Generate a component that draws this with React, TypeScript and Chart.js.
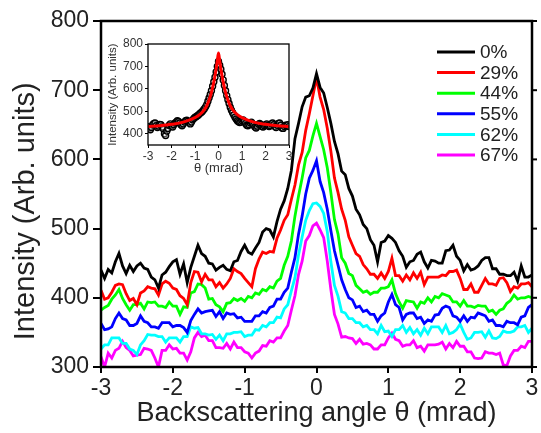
import React, { useEffect, useRef } from 'react';
import { Chart, registerables } from 'chart.js';
Chart.register(...registerables);

const FONT = "'Liberation Sans', Arial, Helvetica, sans-serif";

// sample grid of the main curves: -3 ... 3 mrad, every 0.05 mrad
const angles: number[] = Array.from({ length: 121 }, (_, i) => Math.round((-3 + i * 0.05) * 100) / 100);

const seriesLabels = ['0%', '29%', '44%', '55%', '62%', '67%'];
const seriesColors = ['#000000', '#ff0000', '#00ff00', '#0000ff', '#00ffff', '#ff00ff'];

const s0 = [440,428,441,436,452,464,446,435,447,438,446,450,443,441,430,426,414,433,437,445,
  452,455,434,449,422,444,460,476,464,460,450,449,440,444,447,441,439,452,454,467,
  476,466,463,472,480,495,500,498,488,510,528,540,558,584,630,652,676,690,692,703,
  724,704,696,675,652,626,608,583,578,558,547,528,520,506,500,484,476,452,480,482,
  490,486,480,468,460,444,452,454,463,466,452,443,454,453,450,450,468,469,476,460,
  454,439,448,440,442,446,454,458,458,442,442,434,434,432,432,437,424,446,430,430,433];
const s29 = [411,398,400,408,418,420,419,406,396,399,390,407,410,416,414,413,404,420,424,421,
  414,412,403,399,390,422,438,437,423,434,426,426,416,422,414,420,428,442,438,435,
  428,422,416,442,456,466,464,467,466,486,498,512,520,542,563,592,610,642,666,692,
  718,690,672,645,612,573,552,528,512,488,476,464,460,448,442,434,434,428,436,428,
  438,457,432,432,424,433,426,436,428,437,419,430,430,430,430,433,432,438,438,440,
  428,412,412,420,408,408,418,428,420,420,418,428,429,422,409,416,414,420,420,422,416];
const s44 = [382,386,389,398,404,412,399,390,382,390,390,392,384,394,393,394,388,388,386,394,
  388,388,376,387,386,407,409,420,419,414,398,399,390,387,380,392,393,399,396,399,
  395,402,400,407,405,412,410,416,414,424,428,447,460,482,518,547,573,602,613,634,
  652,633,614,588,552,513,492,458,450,435,432,418,413,408,410,405,408,408,414,414,
  416,426,406,394,385,396,395,394,385,394,392,400,394,402,400,406,404,402,394,394,
  388,396,388,388,386,389,388,388,380,382,376,382,384,392,396,404,398,400,400,402,400];
const s55 = [363,354,355,358,370,378,370,368,360,360,363,374,366,364,358,358,356,364,364,364,
  358,360,360,357,350,367,376,384,378,380,381,382,373,380,370,378,376,377,371,372,
  366,366,366,374,374,380,378,386,388,398,398,408,414,437,458,492,518,550,573,584,
  598,568,552,528,497,468,447,426,412,400,397,386,388,380,382,376,376,366,374,378,
  394,405,390,386,368,376,378,378,370,372,363,368,366,375,376,385,388,386,374,372,
  366,374,366,372,371,378,376,374,366,368,360,360,358,366,364,364,361,372,374,386,390];
const s62 = [326,332,332,342,342,342,334,334,326,324,318,332,338,347,346,346,344,344,336,342,
  342,342,336,344,344,358,356,357,348,348,346,347,340,346,338,348,348,350,350,351,
  344,346,346,354,353,360,358,364,364,372,371,384,390,410,429,462,488,512,526,536,
  537,532,522,496,452,418,402,380,378,370,370,364,364,358,360,354,354,348,360,351,
  352,344,354,354,360,350,357,348,354,346,356,348,358,358,358,350,360,348,350,354,
  362,350,340,342,350,350,351,343,352,342,341,344,352,350,350,352,358,358,360,350,356];
const s67 = [315,300,320,313,324,327,337,328,324,316,317,318,327,326,324,313,300,324,324,332,
  326,327,320,320,310,322,342,350,344,346,338,338,328,328,327,334,326,336,328,328,
  322,320,313,320,323,331,330,338,336,342,342,352,360,382,403,434,453,482,490,504,
  508,498,487,453,412,376,362,343,344,342,341,334,340,333,334,332,326,326,332,332,
  342,349,340,338,330,332,332,338,328,330,323,332,332,332,333,336,326,334,328,337,
  330,330,322,322,313,312,313,322,320,320,318,320,303,302,316,324,324,330,328,337,337];
const seriesValues = [s0, s29, s44, s55, s62, s67];

const yTicks = [300, 400, 500, 600, 700, 800];
const xTicks = [-3, -2, -1, 0, 1, 2, 3];

// inset: measured points (every 0.05 mrad) and fitted curve
const insetMeasured = [432,425,418,428,440,446,448,436,428,434,442,440,430,422,400,392,412,424,438,444,
  436,430,440,448,452,458,455,448,440,436,444,452,458,460,456,450,444,452,462,468,
  474,476,480,484,490,494,498,505,512,520,530,545,560,575,592,612,632,652,675,700,
  722,705,688,665,640,615,592,570,552,535,518,505,494,484,474,466,458,454,450,452,
  458,462,455,446,438,436,440,448,452,444,438,430,426,434,442,446,440,432,430,436,
  440,444,438,432,436,444,448,440,432,428,438,446,448,438,426,424,432,438,436,440,432];
const fitAngles = [-3, -2.5, -2, -1.5, -1, -0.8, -0.6, -0.5, -0.4, -0.3, -0.2, -0.1, -0.05, 0, 0.05, 0.1, 0.2, 0.3, 0.4, 0.5, 0.6, 0.8, 1, 1.5, 2, 2.5, 3];
const fitValues = [432, 436, 442, 452, 472, 485, 508, 525, 550, 585, 630, 690, 725, 760, 725, 690, 630, 585, 550, 525, 508, 485, 472, 452, 442, 436, 432];
const insetYTicks = [400, 500, 600, 700, 800];

const framePlugin = {
  id: 'frame',
  afterDatasetsDraw(chart: any, _a: any, opts: any) {
    const { ctx, chartArea } = chart;
    ctx.save();
    ctx.strokeStyle = '#000';
    ctx.lineWidth = opts.width || 2;
    ctx.strokeRect(chartArea.left, chartArea.top, chartArea.right - chartArea.left, chartArea.bottom - chartArea.top);
    if (opts.rightTicks) {
      const ys = chart.scales.y;
      ctx.lineWidth = opts.tickWidth || 2;
      ys.ticks.forEach((t: any) => {
        const py = ys.getPixelForValue(t.value);
        ctx.beginPath();
        ctx.moveTo(chartArea.right, py);
        ctx.lineTo(chartArea.right + opts.rightTicks, py);
        ctx.stroke();
      });
    }
    ctx.restore();
  },
};

// y-axis title of the main chart, set a little below the axis centre as in the original
const yTitlePlugin = {
  id: 'yTitle',
  afterDraw(chart: any, _a: any, opts: any) {
    if (!opts.text) return;
    const { ctx, chartArea } = chart;
    const cy = chartArea.top + (chartArea.bottom - chartArea.top) * 0.55;
    ctx.save();
    ctx.translate(opts.x, cy);
    ctx.rotate(-Math.PI / 2);
    ctx.fillStyle = '#222';
    ctx.font = `${opts.size}px ${FONT}`;
    ctx.textAlign = 'center';
    ctx.textBaseline = 'middle';
    ctx.fillText(opts.text, 0, 0);
    ctx.restore();
  },
};

const legendPlugin = {
  id: 'insideLegend',
  afterDatasetsDraw(chart: any, _a: any, opts: any) {
    if (!opts.show) return;
    const { ctx, chartArea } = chart;
    ctx.save();
    chart.data.datasets.forEach((ds: any, i: number) => {
      const y = chartArea.top + 31 + i * 20.6;
      const x0 = chartArea.right - 95;
      ctx.strokeStyle = ds.borderColor;
      ctx.lineWidth = 3;
      ctx.beginPath();
      ctx.moveTo(x0, y);
      ctx.lineTo(x0 + 38, y);
      ctx.stroke();
      ctx.fillStyle = '#222';
      ctx.font = `19px ${FONT}`;
      ctx.textBaseline = 'middle';
      ctx.textAlign = 'left';
      ctx.fillText(ds.label, x0 + 43, y + 1);
    });
    ctx.restore();
  },
};

export default function App() {
  const mainRef = useRef<HTMLCanvasElement>(null);
  const insetRef = useRef<HTMLCanvasElement>(null);

  useEffect(() => {
    const main = new Chart(mainRef.current!, {
      type: 'line',
      data: {
        datasets: seriesValues.map((vals, k) => ({
          label: seriesLabels[k],
          data: angles.map((a, i) => ({ x: a, y: vals[i] })),
          borderColor: seriesColors[k],
          backgroundColor: seriesColors[k],
          borderWidth: 2.8,
          pointRadius: 0,
          tension: 0,
          fill: false,
        })),
      },
      options: {
        responsive: false,
        animation: false,
        events: [],
        layout: { padding: { left: 0, right: 9, top: 21, bottom: 0 } },
        plugins: {
          legend: { display: false },
          tooltip: { enabled: false },
          frame: { width: 2.5, rightTicks: 5, tickWidth: 2 },
          insideLegend: { show: true },
          yTitle: { text: 'Intensity (Arb. units)', size: 29, x: 26 },
        } as any,
        scales: {
          x: {
            type: 'linear',
            min: -3,
            max: 3,
            afterBuildTicks: (s: any) => { s.ticks = xTicks.map((v) => ({ value: v })); },
            afterFit: (s: any) => { s.height = 66; },
            ticks: { font: { size: 23, family: FONT }, color: '#222', padding: 2, maxRotation: 0, callback: (v: any) => String(v) },
            grid: { drawOnChartArea: false, drawTicks: true, tickLength: 6, color: '#000', lineWidth: 2 },
            border: { display: false },
            title: { display: true, text: 'Backscattering angle θ (mrad)', font: { size: 27, family: FONT }, color: '#222', padding: { top: 0, bottom: 3 } },
          },
          y: {
            type: 'linear',
            min: 300,
            max: 800,
            afterBuildTicks: (s: any) => { s.ticks = yTicks.map((v) => ({ value: v })); },
            afterFit: (s: any) => { s.width = 101; },
            ticks: { font: { size: 23, family: FONT }, color: '#222', padding: 4 },
            grid: { drawOnChartArea: false, drawTicks: true, tickLength: 8, color: '#000', lineWidth: 2 },
            border: { display: false },
            title: { display: false },
          },
        },
      },
      plugins: [framePlugin, legendPlugin, yTitlePlugin],
    });

    const inset = new Chart(insetRef.current!, {
      type: 'line',
      data: {
        datasets: [
          {
            label: 'fit',
            data: fitAngles.map((a, i) => ({ x: a, y: fitValues[i] })),
            borderColor: '#ff0000',
            borderWidth: 3,
            pointRadius: 0,
            cubicInterpolationMode: 'monotone',
            fill: false,
          },
          {
            label: 'data',
            data: angles.map((a, i) => ({ x: a, y: insetMeasured[i] })),
            showLine: false,
            pointRadius: 3,
            pointBorderWidth: 1.4,
            pointBorderColor: '#000',
            pointBackgroundColor: 'rgba(255,255,255,0.35)',
            borderColor: '#000',
          },
        ],
      },
      options: {
        responsive: false,
        animation: false,
        events: [],
        layout: { padding: { left: 0, right: 11, top: 14, bottom: 0 } },
        plugins: {
          legend: { display: false },
          tooltip: { enabled: false },
          frame: { width: 1.3 },
          insideLegend: { show: false },
          yTitle: { text: '' },
        } as any,
        scales: {
          x: {
            type: 'linear',
            min: -3,
            max: 3,
            afterBuildTicks: (s: any) => { s.ticks = xTicks.map((v) => ({ value: v })); },
            afterFit: (s: any) => { s.height = 35; },
            ticks: { font: { size: 12, family: FONT }, color: '#333', padding: 1, maxRotation: 0, callback: (v: any) => String(v) },
            grid: { drawOnChartArea: false, drawTicks: true, tickLength: 3, color: '#000', lineWidth: 1 },
            border: { display: false },
            title: { display: true, text: 'θ (mrad)', font: { size: 13, family: FONT }, color: '#333', padding: { top: 0, bottom: 4 } },
          },
          y: {
            type: 'linear',
            min: 350,
            max: 800,
            afterBuildTicks: (s: any) => { s.ticks = insetYTicks.map((v) => ({ value: v })); },
            afterFit: (s: any) => { s.width = 48; },
            ticks: { font: { size: 12, family: FONT }, color: '#333', padding: 2 },
            grid: { drawOnChartArea: false, drawTicks: true, tickLength: 3, color: '#000', lineWidth: 1 },
            border: { display: false },
            title: { display: true, text: 'Intensity (Arb. units)', font: { size: 11.5, family: FONT }, color: '#333', padding: { top: 6, bottom: 0 } },
          },
        },
      },
      plugins: [framePlugin, legendPlugin, yTitlePlugin],
    });

    return () => {
      main.destroy();
      inset.destroy();
    };
  }, []);

  return (
    <div style={{ position: 'absolute', left: 0, top: 0, width: 541, height: 433, background: '#fff' }}>
      <canvas ref={mainRef} width={541} height={433} style={{ position: 'absolute', left: 0, top: 0, width: 541, height: 433 }} />
      <canvas ref={insetRef} width={200} height={150} style={{ position: 'absolute', left: 100, top: 30, width: 200, height: 150 }} />
    </div>
  );
}
